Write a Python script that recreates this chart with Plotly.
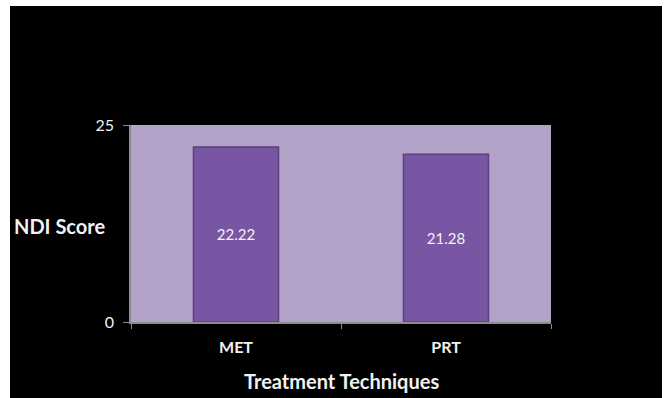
import plotly.graph_objects as go

# NDI scores by treatment technique
techniques = ["MET", "PRT"]
ndi_scores = [22.22, 21.28]
y_ticks = [0, 25]

FONT = "Lato, 'Liberation Sans', sans-serif"
TEXT = "#F2F2F2"

# plot area in pixels: x 131..551, y 125..322
L, R, T, B = 131, 551, 125, 322
W, H = R - L, B - T


def px_x(p):
    return (p - L) / W


def px_y(p):
    return (B - p) / H


fig = go.Figure()

fig.add_trace(go.Bar(
    x=techniques,
    y=ndi_scores,
    text=[f"{v:.2f}" for v in ndi_scores],
    textposition="inside",
    insidetextanchor="middle",
    textfont=dict(family=FONT, size=15, color=TEXT),
    marker=dict(color="#7856A3", line=dict(color="#5B417E", width=1.5)),
    hoverinfo="skip",
))

white_strip = dict(type="rect", xref="paper", yref="paper",
                   fillcolor="white", line=dict(width=0), layer="above")

fig.update_layout(
    width=665,
    height=398,
    margin=dict(l=L, r=665 - R, t=T, b=398 - B),
    paper_bgcolor="black",
    plot_bgcolor="#B3A2C8",
    bargap=0.595,
    showlegend=False,
    font=dict(family=FONT, color=TEXT),
    shapes=[
        # thin white frame at the left, top and right edges
        dict(white_strip, x0=px_x(-2), x1=px_x(10), y0=px_y(402), y1=px_y(-2)),
        dict(white_strip, x0=px_x(-2), x1=px_x(667), y0=px_y(6), y1=px_y(-2)),
        dict(white_strip, x0=px_x(662), x1=px_x(667), y0=px_y(402), y1=px_y(-2)),
    ],
    annotations=[
        dict(text="<b>NDI Score</b>", xref="paper", yref="paper",
             x=px_x(12), y=px_y(226), xanchor="left", yanchor="middle",
             showarrow=False, font=dict(family=FONT, size=20, color=TEXT)),
        dict(text="<b>Treatment Techniques</b>", xref="paper", yref="paper",
             x=0.5, y=px_y(381), xanchor="center", yanchor="middle",
             showarrow=False, font=dict(family=FONT, size=20, color=TEXT)),
    ],
)

fig.update_xaxes(
    showgrid=False,
    showline=True, linecolor="#8C8C8C", linewidth=1.5,
    ticks="outside", tickson="boundaries", ticklen=5, tickcolor="#8C8C8C",
    tickfont=dict(family=FONT, size=16, color=TEXT),
    ticklabelstandoff=10,
    tickprefix="<b>", ticksuffix="</b>",
)
fig.update_yaxes(
    range=[0, 25],
    tickvals=y_ticks,
    showgrid=False, zeroline=False,
    showline=True, linecolor="#8C8C8C", linewidth=1.5,
    ticks="outside", ticklen=6, tickcolor="#8C8C8C",
    tickfont=dict(family=FONT, size=16, color=TEXT),
    ticklabelstandoff=6,
)

fig.write_html("out.html")
